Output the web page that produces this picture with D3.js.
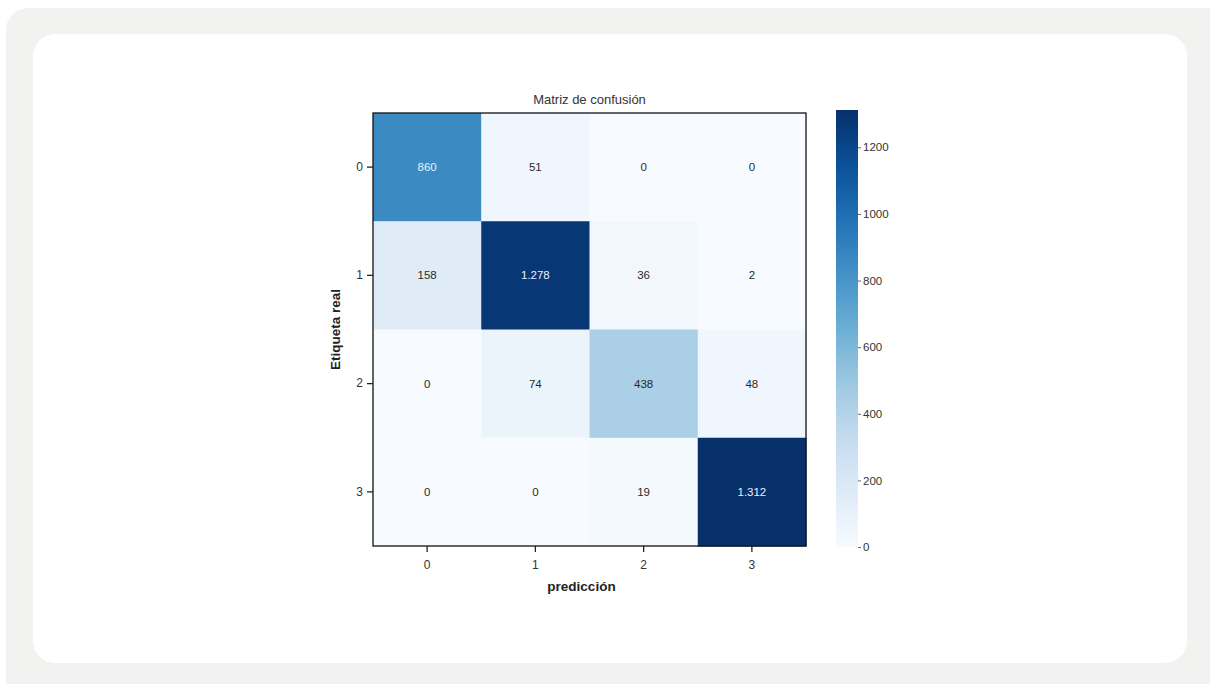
<!DOCTYPE html>
<html>
<head>
<meta charset="utf-8">
<script src="https://cdn.jsdelivr.net/npm/d3@7"></script>
<style>
  html, body { margin: 0; padding: 0; background: #ffffff; }
  svg { display: block; }
  text { font-family: "Liberation Sans", Arial, Helvetica, sans-serif; }
</style>
</head>
<body>
<svg id="chart" width="1210" height="684"></svg>
<script>
// Class labels (rows: true label, columns: prediction)
const classes = ["0", "1", "2", "3"];
// Confusion matrix counts, one array per true class
const row0 = [860, 51, 0, 0];
const row1 = [158, 1278, 36, 2];
const row2 = [0, 74, 438, 48];
const row3 = [0, 0, 19, 1312];
const matrix = [row0, row1, row2, row3];
// Colour bar ticks
const colorbarTicks = [0, 200, 400, 600, 800, 1000, 1200];

const title = "Matriz de confusión";
const xTitle = "predicción";
const yTitle = "Etiqueta real";

const svg = d3.select("#chart");

// Page background and card
svg.append("rect")
  .attr("x", 6).attr("y", 8)
  .attr("width", 1240).attr("height", 700)
  .attr("rx", 22).attr("fill", "#f2f2f1");
svg.append("rect")
  .attr("x", 33).attr("y", 34)
  .attr("width", 1154).attr("height", 629)
  .attr("rx", 22).attr("fill", "#ffffff");

// Plot geometry
const plotLeft = 373, plotTop = 113, plotSize = 433;

const x = d3.scaleBand().domain(classes).range([plotLeft, plotLeft + plotSize]);
const y = d3.scaleBand().domain(classes).range([plotTop, plotTop + plotSize]);

const allValues = matrix.flat();
const vmax = d3.max(allValues);
const color = d3.scaleSequential(d3.interpolateBlues).domain([0, vmax]);

const cells = [];
matrix.forEach((row, i) => row.forEach((v, j) => cells.push({ r: classes[i], c: classes[j], v })));

const fmt = d3.formatLocale({ decimal: ",", thousands: ".", grouping: [3], currency: ["", "€"] }).format(",d");

const g = svg.append("g");

g.selectAll("rect.cell")
  .data(cells)
  .join("rect")
  .attr("class", "cell")
  .attr("x", d => x(d.c))
  .attr("y", d => y(d.r))
  .attr("width", x.bandwidth() + 0.5)
  .attr("height", y.bandwidth() + 0.5)
  .attr("fill", d => color(d.v));

const thresh = vmax / 2;
g.selectAll("text.val")
  .data(cells)
  .join("text")
  .attr("class", "val")
  .attr("x", d => x(d.c) + x.bandwidth() / 2)
  .attr("y", d => y(d.r) + y.bandwidth() / 2)
  .attr("text-anchor", "middle")
  .attr("dominant-baseline", "central")
  .attr("font-size", 11.5)
  .attr("fill", d => d.v > thresh ? "#e8f0f8" : "#2a2a2a")
  .text(d => fmt(d.v));

// Frame
g.append("rect")
  .attr("x", plotLeft).attr("y", plotTop)
  .attr("width", plotSize).attr("height", plotSize)
  .attr("fill", "none").attr("stroke", "#111").attr("stroke-width", 1.3);

// Axes
const xAxis = d3.axisBottom(x).tickSize(6).tickPadding(8);
const gx = svg.append("g").attr("transform", `translate(0,${plotTop + plotSize})`).call(xAxis);
gx.select(".domain").remove();
gx.selectAll("line").attr("stroke", "#222").attr("stroke-width", 1.3);
gx.selectAll("text").attr("font-size", 12).attr("fill", "#333");

const yAxis = d3.axisLeft(y).tickSize(6).tickPadding(4);
const gy = svg.append("g").attr("transform", `translate(${plotLeft},0)`).call(yAxis);
gy.select(".domain").remove();
gy.selectAll("line").attr("stroke", "#222").attr("stroke-width", 1.3);
gy.selectAll("text").attr("font-size", 12).attr("fill", "#333");

// Titles
svg.append("text")
  .attr("x", plotLeft + plotSize / 2).attr("y", plotTop - 9)
  .attr("text-anchor", "middle")
  .attr("font-size", 13).attr("fill", "#333")
  .text(title);

svg.append("text")
  .attr("x", plotLeft + plotSize / 2 - 8).attr("y", 591)
  .attr("text-anchor", "middle")
  .attr("font-size", 13.5).attr("font-weight", "bold").attr("fill", "#222")
  .text(xTitle);

svg.append("text")
  .attr("transform", `translate(340,${plotTop + plotSize / 2}) rotate(-90)`)
  .attr("text-anchor", "middle")
  .attr("font-size", 13.5).attr("font-weight", "bold").attr("fill", "#222")
  .text(yTitle);

// Colour bar
const cbX = 836, cbW = 22, cbTop = 110, cbBottom = 547;
const cbScale = d3.scaleLinear().domain([0, vmax]).range([cbBottom, cbTop]);

const defs = svg.append("defs");
const grad = defs.append("linearGradient")
  .attr("id", "cbgrad")
  .attr("x1", 0).attr("y1", 1).attr("x2", 0).attr("y2", 0);
d3.range(0, 1.0001, 0.05).forEach(t => {
  grad.append("stop").attr("offset", t).attr("stop-color", color(t * vmax));
});
svg.append("rect")
  .attr("x", cbX).attr("y", cbTop)
  .attr("width", cbW).attr("height", cbBottom - cbTop)
  .attr("fill", "url(#cbgrad)");

const cbAxis = d3.axisRight(cbScale).tickValues(colorbarTicks).tickFormat(d3.format("d")).tickSize(3).tickPadding(2);
const gc = svg.append("g").attr("transform", `translate(${cbX + cbW},0)`).call(cbAxis);
gc.select(".domain").remove();
gc.selectAll("line").attr("stroke", "#666").attr("stroke-width", 1);
gc.selectAll("text").attr("font-size", 11.5).attr("fill", "#333");
</script>
</body>
</html>
